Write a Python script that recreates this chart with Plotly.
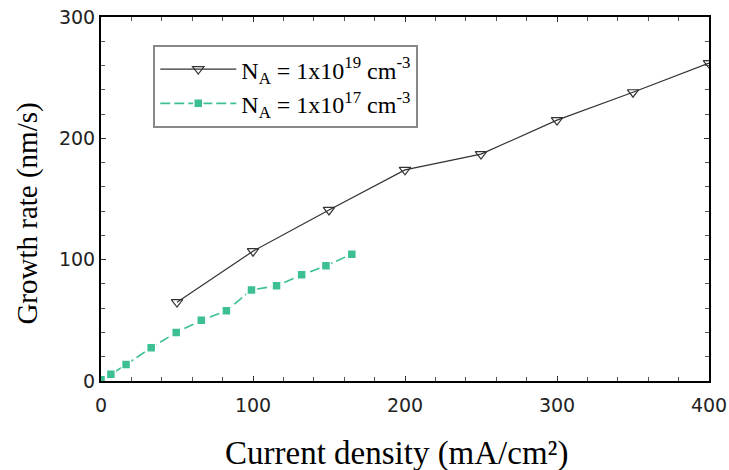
import plotly.graph_objects as go

# Data
x_high = [50, 100, 150, 200, 250, 300, 350, 400]
y_high = [65, 107, 141, 174, 187, 215, 238, 262]

x_low = [0, 6.5, 16.5, 33, 49.5, 66, 82.5, 99, 115.5, 132, 148, 165]
y_low = [1, 5.5, 13.5, 27.5, 40, 50, 58, 75, 78.5, 87.5, 95, 104.5]

label_high = "N<sub>A</sub> = 1x10<sup>19</sup> cm<sup>-3</sup>"
label_low = "N<sub>A</sub> = 1x10<sup>17</sup> cm<sup>-3</sup>"

x_ticks = [0, 100, 200, 300, 400]
y_ticks = [0, 100, 200, 300]

fig = go.Figure()
fig.add_trace(go.Scatter(
    x=x_high, y=y_high, name=label_high, mode="lines+markers",
    line=dict(color="#333333", width=1.2),
    marker=dict(symbol="triangle-down-open", size=10, color="#333333",
                line=dict(width=1.2, color="#333333")),
))
fig.add_trace(go.Scatter(
    x=x_low, y=y_low, name=label_low, mode="lines+markers",
    line=dict(color="#3dbf94", width=1.6, dash="10px,4px"),
    marker=dict(symbol="square", size=9, color="#3dbf94",
                line=dict(width=1.5, color="white")),
))

axis_common = dict(
    showgrid=False, zeroline=False, showline=True, linecolor="black", linewidth=2,
    mirror="allticks", ticks="inside", ticklen=5, tickwidth=1, tickcolor="#333333",
    tickfont=dict(family="DejaVu Sans", size=19, color="#222222"),
    automargin=False,
)

fig.update_xaxes(
    range=[0, 400], tickvals=x_ticks, ticklabelstandoff=6,
    minor=dict(dtick=20, ticks="inside", ticklen=4, tickcolor="#555555"),
    **axis_common,
)
fig.update_yaxes(
    range=[0, 300], tickvals=y_ticks,
    minor=dict(dtick=20, ticks="inside", ticklen=4, tickcolor="#555555"),
    **axis_common,
)

fig.add_annotation(
    text="Current density (mA/cm²)", xref="paper", yref="paper",
    x=0.487, y=-0.198, xanchor="center", yanchor="middle", showarrow=False,
    font=dict(family="Liberation Serif", size=33, color="black"),
)
fig.add_annotation(
    text="Growth rate (nm/s)", xref="paper", yref="paper", textangle=-90,
    x=-0.12, y=0.46, xanchor="center", yanchor="middle", showarrow=False,
    font=dict(family="Liberation Serif", size=29, color="black"),
)

fig.update_layout(
    width=729, height=470,
    margin=dict(l=101, r=20, t=17, b=89),
    plot_bgcolor="white", paper_bgcolor="white",
    showlegend=True,
    legend=dict(x=0.086, y=0.923, xanchor="left", yanchor="top",
                bgcolor="white", bordercolor="#888888", borderwidth=2,
                font=dict(family="Liberation Serif", size=24, color="black"),
                tracegroupgap=0, itemwidth=76),
)

fig.write_html("out.html", config={"displayModeBar": False})

# remove the default page margin so the figure sits at the window's corner
with open("out.html", "r", encoding="utf-8") as f:
    html = f.read()
html = html.replace("<head>", "<head><style>html,body{margin:0;padding:0;overflow:hidden}</style>", 1)
with open("out.html", "w", encoding="utf-8") as f:
    f.write(html)
